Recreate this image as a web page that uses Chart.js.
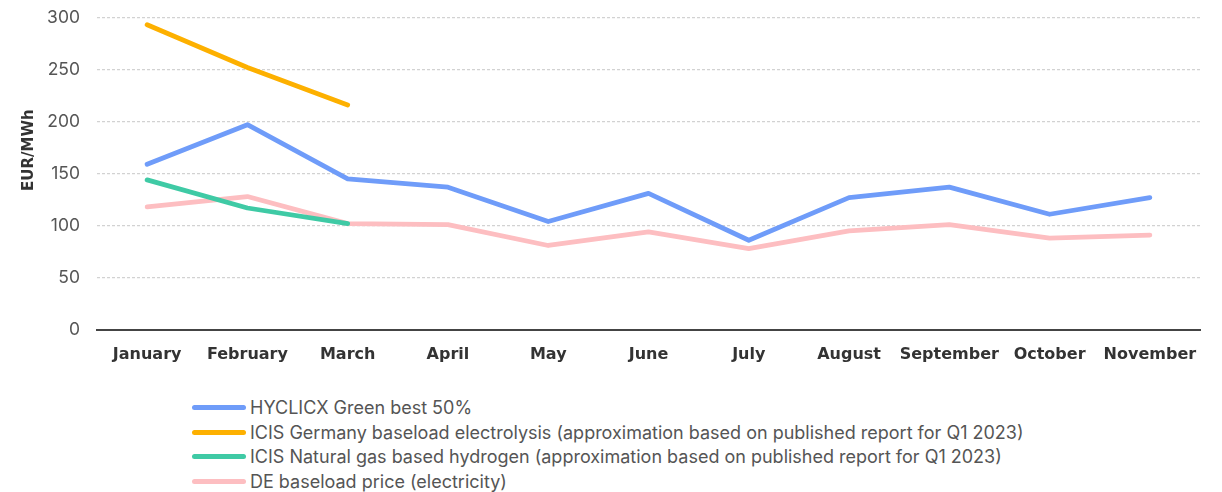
<!DOCTYPE html>
<html lang="en">
<head>
    <meta charset="UTF-8">
    <title>Hydrogen price comparison</title>
    <script src="https://cdn.jsdelivr.net/npm/chart.js"></script>
    <style>
        body { margin: 0; background: #fff; overflow: hidden; }
        #wrap { position: relative; width: 1222px; height: 492px; overflow: hidden; }
        #lineChart { position: absolute; left: 0; top: -10px; }
        #legend { position: absolute; left: 192px; top: 395px; font-family: Inter, sans-serif; font-size: 18px; color: #555; }
        .item { height: 24.7px; display: flex; align-items: center; }
        .swatch { width: 54px; height: 5px; border-radius: 3px; margin-right: 4px; }
    </style>
</head>
<body>
<div id="wrap">
    <canvas id="lineChart" width="1222" height="381"></canvas>
    <div id="legend"></div>
</div>

<script type="text/javascript">
    // chart data
    const months = ['January', 'February', 'March', 'April', 'May', 'June', 'July', 'August', 'September', 'October', 'November'];
    const hyclicxGreen = [159, 197, 145, 137, 104, 131, 86, 127, 137, 111, 127];
    const icisElectrolysis = [293, 252, 216];
    const icisNaturalGas = [144, 117, 102];
    const deBaseload = [118, 128, 102, 101, 81, 94, 78, 95, 101, 88, 91];
    const yTicks = [0, 50, 100, 150, 200, 250, 300];

    const seriesNames = [
        'HYCLICX Green best 50%',
        'ICIS Germany baseload electrolysis (approximation based on published report for Q1 2023)',
        'ICIS Natural gas based hydrogen (approximation based on published report for Q1 2023)',
        'DE baseload price (electricity)'
    ];
    const seriesColors = ['#6f9cf9', '#fdb000', '#3fcaa5', '#fdbec1'];
    const seriesData = [hyclicxGreen, icisElectrolysis, icisNaturalGas, deBaseload];

    function makeDataset(i) {
        return {
            label: seriesNames[i],
            data: seriesData[i],
            borderColor: seriesColors[i],
            backgroundColor: seriesColors[i],
            borderWidth: 4.8,
            borderCapStyle: 'round',
            borderJoinStyle: 'round',
            pointRadius: 0,
            tension: 0,
            fill: false
        };
    }

    const ctx = document.getElementById('lineChart').getContext('2d');
    const chart = new Chart(ctx, {
        type: 'line',
        data: {
            labels: months,
            datasets: seriesNames.map((_, i) => makeDataset(i))
        },
        options: {
            responsive: false,
            animation: false,
            layout: { padding: { top: 0, right: 22, left: 0, bottom: 0 } },
            plugins: {
                legend: { display: false },
                tooltip: { enabled: false }
            },
            scales: {
                x: {
                    offset: true,
                    grid: { display: false },
                    border: { display: true, color: '#444', width: 2 },
                    ticks: {
                        color: '#333',
                        font: { family: 'DejaVu Sans', size: 16, weight: 'bold' },
                        padding: 7,
                        maxRotation: 0,
                        autoSkip: false
                    }
                },
                y: {
                    min: 0,
                    max: 300,
                    afterBuildTicks: (scale) => { scale.ticks = yTicks.map(v => ({ value: v })); },
                    afterFit: (scale) => { scale.width = 97; },
                    grid: {
                        color: (c) => c.tick.value === 0 ? 'rgba(0,0,0,0)' : '#d2d2d2',
                        lineWidth: 1.2,
                        drawTicks: false
                    },
                    border: { display: false, dash: [3, 2] },
                    ticks: {
                        color: '#555',
                        font: { family: 'Inter', size: 17.5 },
                        padding: 17
                    },
                    title: {
                        display: true,
                        text: '         EUR/MWh',
                        color: '#333',
                        font: { family: 'DejaVu Sans', size: 15, weight: 'bold' },
                        padding: { top: 20, bottom: 0 }
                    }
                }
            }
        }
    });

    // html legend, one row per series
    const legend = document.getElementById('legend');
    chart.data.datasets.forEach(ds => {
        const row = document.createElement('div');
        row.className = 'item';
        const sw = document.createElement('div');
        sw.className = 'swatch';
        sw.style.background = ds.borderColor;
        const txt = document.createElement('span');
        txt.textContent = ds.label;
        row.appendChild(sw);
        row.appendChild(txt);
        legend.appendChild(row);
    });
</script>
</body>
</html>
